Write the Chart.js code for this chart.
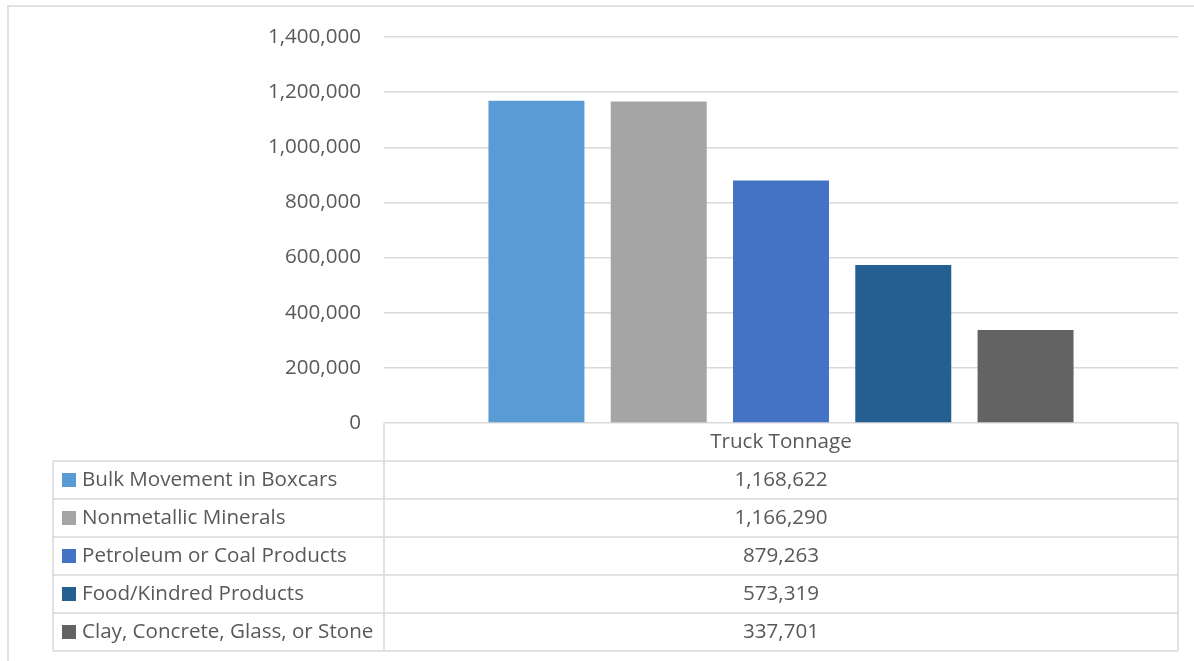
<!DOCTYPE html>
<html>
<head>
<meta charset="utf-8">
<script src="https://cdn.jsdelivr.net/npm/chart.js@4/dist/chart.umd.min.js"></script>
<style>
  html, body { margin: 0; padding: 0; background: #fff; }
  #wrap { width: 1194px; height: 661px; position: relative; }
</style>
</head>
<body>
<div id="wrap"><canvas id="chart_Truck"></canvas></div>
<script>
// chart data
var categories = ["Truck Tonnage"];
var seriesNames = [
  "Bulk Movement in Boxcars",
  "Nonmetallic Minerals",
  "Petroleum or Coal Products",
  "Food/Kindred Products",
  "Clay, Concrete, Glass, or Stone"
];
var seriesValues = [1168622, 1166290, 879263, 573319, 337701];
var seriesColors = ["#5B9BD5", "#A5A5A5", "#4472C4", "#255E91", "#636363"];
var yTicks = [0, 200000, 400000, 600000, 800000, 1000000, 1200000, 1400000];

var textColor = "#595959";
var lineColor = "#d9d9d9";
var fontFamily = "'Open Sans', 'Noto Sans', sans-serif";
var fontSize = 20.6;

function fmt(v) {
  return v.toLocaleString("en-US");
}

// outer frame + data table under the plot
var tablePlugin = {
  id: "dataTable",
  beforeDraw: function (chart) {
    var ctx = chart.ctx;
    ctx.save();
    ctx.fillStyle = "#fff";
    ctx.fillRect(0, 0, chart.width, chart.height);
    ctx.strokeStyle = lineColor;
    ctx.lineWidth = 1.5;
    ctx.strokeRect(8, 6, chart.width + 20, chart.height + 20);
    ctx.restore();
  },
  afterDraw: function (chart) {
    var ctx = chart.ctx;
    var area = chart.chartArea;
    var rowH = 38;
    var top = area.bottom;
    var leftX = 53;
    ctx.save();
    ctx.strokeStyle = lineColor;
    ctx.lineWidth = 1.5;

    ctx.beginPath();
    ctx.moveTo(area.left, top);
    ctx.lineTo(area.left, top + rowH * (seriesNames.length + 1));
    ctx.moveTo(area.right, top);
    ctx.lineTo(area.right, top + rowH * (seriesNames.length + 1));
    ctx.moveTo(leftX, top + rowH);
    ctx.lineTo(leftX, top + rowH * (seriesNames.length + 1));
    for (var r = 1; r <= seriesNames.length + 1; r++) {
      ctx.moveTo(leftX, top + rowH * r);
      ctx.lineTo(area.right, top + rowH * r);
    }
    ctx.stroke();

    ctx.font = fontSize + "px " + fontFamily;
    ctx.fillStyle = textColor;
    ctx.textBaseline = "middle";
    ctx.textAlign = "center";
    var midX = (area.left + area.right) / 2;
    ctx.fillText(categories[0], midX, top + rowH / 2);

    for (var i = 0; i < seriesNames.length; i++) {
      var cy = top + rowH * (i + 1) + rowH / 2;
      var ds = chart.data.datasets[i];
      ctx.fillStyle = ds.backgroundColor;
      ctx.fillRect(62, cy - 7, 14, 14);
      ctx.fillStyle = textColor;
      ctx.textAlign = "left";
      ctx.fillText(ds.label, 82, cy);
      ctx.textAlign = "center";
      ctx.fillText(fmt(ds.data[0]), midX, cy);
    }
    ctx.restore();
  }
};

var datasets = [];
for (var i = 0; i < seriesNames.length; i++) {
  datasets.push({
    label: seriesNames[i],
    data: [seriesValues[i]],
    backgroundColor: seriesColors[i],
    categoryPercentage: 0.77,
    barPercentage: 0.785
  });
}

new Chart(document.getElementById("chart_Truck"), {
  type: "bar",
  data: {
    labels: categories,
    datasets: datasets
  },
  options: {
    responsive: true,
    maintainAspectRatio: false,
    animation: false,
    layout: {
      padding: { left: 0, right: 16, top: 37, bottom: 238 }
    },
    plugins: {
      legend: { display: false },
      tooltip: { enabled: false }
    },
    scales: {
      x: {
        display: false
      },
      y: {
        min: 0,
        max: 1400000,
        afterFit: function (scale) { scale.width = 384; },
        afterBuildTicks: function (scale) {
          scale.ticks = yTicks.map(function (v) { return { value: v }; });
        },
        border: { display: false },
        grid: { color: lineColor, lineWidth: 1.5, drawTicks: false },
        ticks: {
          padding: 23,
          color: textColor,
          font: { family: fontFamily, size: fontSize },
          callback: function (v) { return fmt(v); }
        }
      }
    }
  },
  plugins: [tablePlugin]
});
</script>
</body>
</html>
